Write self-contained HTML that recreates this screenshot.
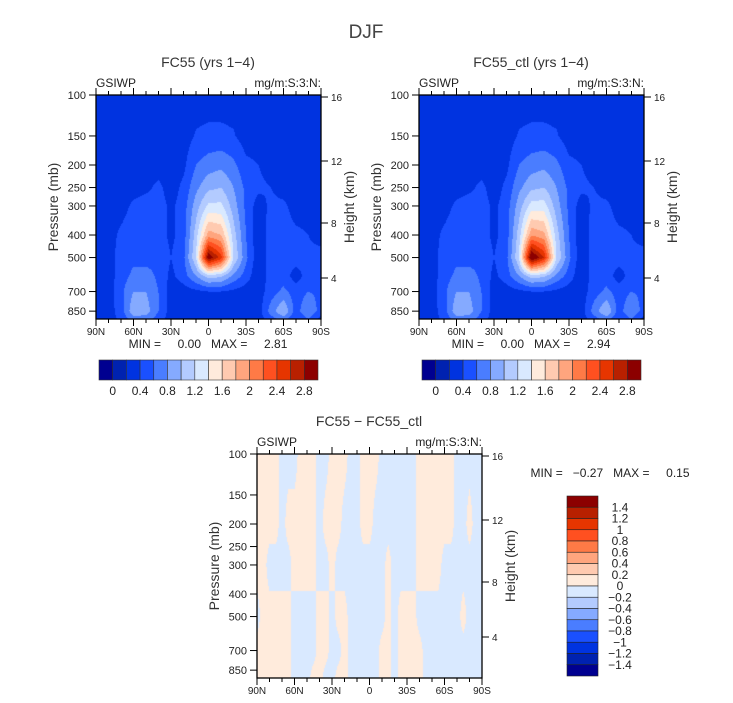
<!DOCTYPE html>
<html><head><meta charset="utf-8">
<style>
html,body{margin:0;padding:0;background:#fff;}
#wrap{position:relative;width:733px;height:703px;overflow:hidden;font-family:"Liberation Sans",sans-serif;}
canvas{position:absolute;}
svg{position:absolute;left:0;top:0;}
</style></head>
<body>
<div id="wrap">
<canvas id="c1" width="225" height="224" style="left:96px;top:95px"></canvas>
<canvas id="c2" width="225" height="224" style="left:419px;top:95px"></canvas>
<canvas id="c3" width="225" height="224" style="left:257px;top:454px"></canvas>
<svg id="ov" width="733" height="703"></svg>
</div>
<script>
// ---- data ----
const colors = ["#000090","#0022b0","#0033e0","#1a50ff","#4a7dff","#85aaff","#b3cbff","#d9e9ff","#ffebdc","#ffcab0","#ffa57e","#ff7a46","#ff5020","#e63500","#b82000","#8c0000"];
const topLats = [90,80,70,60,50,40,30,20,10,0,-10,-20,-30,-40,-50,-60,-70,-80,-90];
const topPres = [100,150,200,250,300,400,500,600,700,850,920];
const topField = [
 [.1,.1,.1,.1,.1,.1,.1,.1,.1,.1,.1,.1,.1,.1,.1,.1,.1,.1,.1],
 [.1,.1,.1,.1,.1,.1,.1,.1,.22,.25,.25,.22,.1,.1,.1,.1,.1,.1,.1],
 [.1,.1,.1,.1,.1,.1,.1,.15,.4,.5,.55,.45,.25,.2,.1,.1,.1,.1,.1],
 [.1,.1,.1,.1,.15,.25,.1,.25,.55,.75,.8,.6,.35,.25,.2,.1,.1,.1,.1],
 [.1,.1,.1,.25,.3,.3,.15,.3,.7,1.05,1.05,.7,.35,.1,.25,.25,.1,.1,.1],
 [.1,.1,.25,.35,.3,.3,.15,.3,.9,1.7,1.6,.9,.4,.05,.3,.3,.25,.2,.1],
 [.1,.1,.3,.35,.3,.35,.2,.35,1.0,2.8,2.3,1.0,.45,.05,.3,.3,.3,.25,.3],
 [.1,.1,.3,.45,.5,.35,.15,.3,.6,.9,.85,.55,.3,.05,.3,.3,.1,.3,.35],
 [.1,.1,.35,.6,.6,.4,.1,.1,.15,.2,.2,.15,.1,.1,.3,.45,.3,.4,.35],
 [.1,.1,.3,.75,.7,.4,.1,.1,.1,.1,.1,.1,.1,.1,.5,.8,.3,.6,.3],
 [.1,.1,.25,.5,.5,.3,.1,.1,.1,.1,.1,.1,.1,.1,.3,.5,.2,.4,.1]
];
const ctlField = topField.map(r => r.map(v => v > 1 ? v * 1.04 : v));
const diffLats = Array.from({length:37}, (_, i) => 90 - i * 5);
const diffPres = [100,200,300,500,700,920];
const P = .05, B = -.05;
const diffField = [
 [P,P,P,P,B,B,B,P,P,P,B,B,P,P,P,B,B,P,P,P,B,B,B,B,B,B,P,P,P,P,P,P,B,B,B,B,B],
 [P,P,P,P,B,P,P,P,P,P,B,P,P,P,B,B,B,P,P,B,B,B,B,B,B,B,P,P,P,P,P,P,B,B,P,B,B],
 [P,P,B,B,B,B,P,P,P,P,B,B,P,B,B,B,B,B,B,B,B,P,B,B,B,B,P,P,P,P,B,B,B,B,B,B,B],
 [B,P,P,P,P,P,B,B,B,B,P,P,B,P,P,B,B,B,B,B,B,P,B,P,P,P,B,B,B,B,B,B,B,P,B,B,B],
 [P,P,P,P,P,P,B,B,B,B,P,P,B,B,P,B,B,B,B,B,P,P,B,P,P,P,P,B,B,B,B,B,B,B,B,B,B],
 [P,P,P,P,P,P,B,B,B,P,P,B,B,P,P,B,B,B,B,B,P,P,B,P,P,P,P,B,B,B,B,B,B,B,B,B,B]
];
const colorbarLabels = ["0","0.4","0.8","1.2","1.6","2","2.4","2.8"];
const diffBarLabels = ["1.4","1.2","1","0.8","0.6","0.4","0.2","0","\u22120.2","\u22120.4","\u22120.6","\u22120.8","\u22121","\u22121.2","\u22121.4"];
const presTicks = [100,150,200,250,300,400,500,700,850];
const heightTicks = [16,12,8,4];
const latLabels = ["90N","60N","30N","0","30S","60S","90S"];

// ---- scales ----
const W = 225, H = 224, K = 101;
const yP = p => K * Math.log(p / 100);
const xLat = lat => (90 - lat) / 180 * W;
const yH = h => ({16:2,12:66,8:128,4:183})[h];

function fillField(id, lats, pres, field, off) {
  const ctx = document.getElementById(id).getContext('2d');
  const img = ctx.createImageData(W, H);
  const ys = pres.map(yP);
  const xs = lats.map(xLat);
  for (let py = 0; py < H; py++) {
    let j = 0; while (j < ys.length - 2 && ys[j + 1] < py + .5) j++;
    const ty = Math.min(1, Math.max(0, (py + .5 - ys[j]) / (ys[j + 1] - ys[j])));
    for (let px = 0; px < W; px++) {
      let i = 0; while (i < xs.length - 2 && xs[i + 1] < px + .5) i++;
      const tx = Math.min(1, Math.max(0, (px + .5 - xs[i]) / (xs[i + 1] - xs[i])));
      const v = field[j][i] * (1 - tx) * (1 - ty) + field[j][i + 1] * tx * (1 - ty) + field[j + 1][i] * (1 - tx) * ty + field[j + 1][i + 1] * tx * ty;
      let k = Math.floor(v / 0.2) + off; k = Math.max(0, Math.min(15, k));
      const c = colors[k];
      const o = (py * W + px) * 4;
      img.data[o] = parseInt(c.substr(1, 2), 16); img.data[o + 1] = parseInt(c.substr(3, 2), 16); img.data[o + 2] = parseInt(c.substr(5, 2), 16); img.data[o + 3] = 255;
    }
  }
  ctx.putImageData(img, 0, 0);
}
fillField('c1', topLats, topPres, topField, 2);
fillField('c2', topLats, topPres, ctlField, 2);
fillField('c3', diffLats, diffPres, diffField, 8);

const svg = document.getElementById('ov');
const NS = 'http://www.w3.org/2000/svg';
function el(tag, attrs, parent) { const e = document.createElementNS(NS, tag); for (const k in attrs) e.setAttribute(k, attrs[k]); (parent || svg).appendChild(e); return e; }
function txt(x, y, s, size, anchor, parent, extra) { const t = el('text', Object.assign({x, y, 'font-size': size, 'text-anchor': anchor || 'middle', fill: '#222'}, extra || {}), parent); t.textContent = s; return t; }

const tt = txt(366, 38, 'DJF', 19, 'middle', svg, {fill: '#444'});



function panel(ox, oy, title, name, minmax) {
  const g = el('g', {});
  
  
  const t = txt(ox + 112, oy - 28, title, 14, 'middle', g, {fill: '#333'});
  
  
  txt(ox, oy - 8, 'GSIWP', 12, 'start', g);
  txt(ox + W, oy - 8, 'mg/m:S:3:N:', 12, 'end', g);
  el('rect', {x: ox, y: oy, width: W, height: H, fill: 'none', stroke: '#000', 'stroke-width': 1.3}, g);
  for (let lat = 90; lat >= -90; lat -= 10) {
    const x = ox + xLat(lat), major = lat % 30 === 0;
    el('line', {x1: x, y1: oy, x2: x, y2: oy - (major ? 7 : 4), stroke: '#000'}, g);
    el('line', {x1: x, y1: oy + H, x2: x, y2: oy + H + (major ? 7 : 4), stroke: '#000'}, g);
  }
  latLabels.forEach((s, i) => txt(ox + i * W / 6, oy + H + 16, s, 10, 'middle', g));
  presTicks.forEach(p => {
    const y = oy + yP(p);
    el('line', {x1: ox, y1: y, x2: ox - 7, y2: y, stroke: '#000'}, g);
    txt(ox - 10, y + 4, String(p), 11, 'end', g);
  });
  heightTicks.forEach(h => {
    const y = oy + yH(h);
    el('line', {x1: ox + W, y1: y, x2: ox + W + 7, y2: y, stroke: '#000'}, g);
    txt(ox + W + 10, y + 4, String(h), 10, 'start', g);
  });
  const yl = txt(0, 0, 'Pressure (mb)', 14, 'middle', g, {transform: `translate(${ox - 38},${oy + 112}) rotate(-90)`, fill: '#333'});
  
  
  const yr = txt(0, 0, 'Height (km)', 14, 'middle', g, {transform: `translate(${ox + W + 33},${oy + 112}) rotate(-90)`, fill: '#333'});
  
  
  if (minmax) txt(ox + 112, oy + H + 29, minmax, 12, 'middle', g, {style: 'white-space:pre'});
}
panel(96, 95, 'FC55 (yrs 1\u22124)', 'fc55-panel', 'MIN =     0.00   MAX =     2.81');
panel(419, 95, 'FC55_ctl (yrs 1\u22124)', 'fc55-ctl-panel', 'MIN =     0.00   MAX =     2.94');
panel(257, 454, 'FC55 \u2212 FC55_ctl', 'diff-panel', null);
const mm = txt(610, 477, 'MIN =   \u22120.27   MAX =     0.15', 12, 'middle', svg, {style: 'white-space:pre'});



function hbar(x0, y0, name) {
  const g = el('g', {});
  
  
  const bw = 219 / 16;
  colors.forEach((c, i) => {
    const r = el('rect', {x: x0 + i * bw, y: y0, width: bw, height: 20, fill: c, stroke: '#333', 'stroke-width': .6}, g);
    
    
  });
  colorbarLabels.forEach((s, i) => txt(x0 + (1 + 2 * i) * bw, y0 + 35, s, 12, 'middle', g));
}
hbar(99, 360, 'colorbar-fc55');
hbar(422, 360, 'colorbar-fc55-ctl');

const vg = el('g', {});


const bh = 180 / 16;
colors.slice().reverse().forEach((c, i) => {
  const r = el('rect', {x: 567, y: 496 + i * bh, width: 31, height: bh, fill: c, stroke: '#222', 'stroke-width': .6}, vg);
  
  
});
diffBarLabels.forEach((s, i) => txt(620, 496 + (i + 1) * bh + 4, s, 12, 'middle', vg));
</script>
</body></html>
